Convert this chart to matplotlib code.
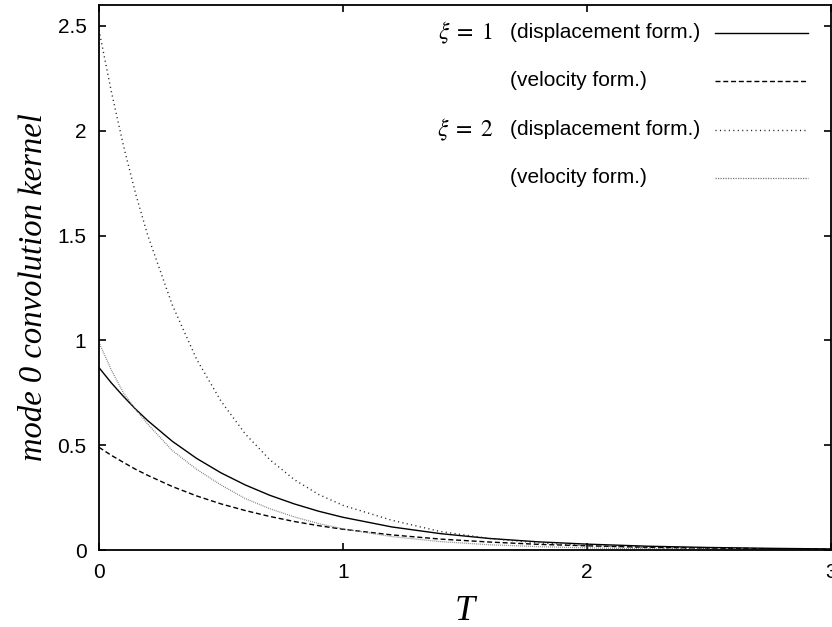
import matplotlib
matplotlib.use("Agg")
import matplotlib.pyplot as plt
from matplotlib.lines import Line2D

# valori
T = [0, 0.05, 0.1, 0.15, 0.2, 0.3, 0.4, 0.5, 0.6, 0.7, 0.8, 0.9, 1.0,
     1.2, 1.4, 1.6, 1.8, 2.0, 2.25, 2.5, 2.75, 3.0]

xi1_disp = [0.87, 0.798, 0.733, 0.672, 0.617, 0.519, 0.437, 0.368, 0.310, 0.261,
            0.220, 0.185, 0.156, 0.110, 0.078, 0.055, 0.039, 0.028, 0.018, 0.012,
            0.008, 0.005]
xi1_vel = [0.49, 0.452, 0.418, 0.385, 0.356, 0.303, 0.258, 0.220, 0.188, 0.160,
           0.136, 0.116, 0.099, 0.072, 0.052, 0.038, 0.027, 0.020, 0.013, 0.009,
           0.006, 0.004]
xi2_disp = [2.48, 2.19, 1.93, 1.70, 1.50, 1.17, 0.91, 0.71, 0.553, 0.431,
            0.336, 0.265, 0.213, 0.142, 0.088, 0.055, 0.034, 0.021, 0.011, 0.006,
            0.003, 0.0015]
xi2_vel = [0.99, 0.86, 0.75, 0.67, 0.60, 0.475, 0.385, 0.31, 0.245, 0.197,
           0.158, 0.126, 0.101, 0.064, 0.040, 0.025, 0.016, 0.010, 0.0057, 0.0032,
           0.0018, 0.001]

labels = ["(displacement form.)", "(velocity form.)",
          "(displacement form.)", "(velocity form.)"]
xi_labels = [r"$\xi\;=\;1$", "", r"$\xi\;=\;2$", ""]

plt.rcParams['font.family'] = ['Liberation Sans', 'DejaVu Sans']
plt.rcParams['mathtext.fontset'] = 'stix'

fig = plt.figure(figsize=(8.32, 6.27), dpi=100)
ax = fig.add_axes([99 / 832, 77 / 627, 732 / 832, 545 / 627])

stili = [
    dict(color='black', lw=1.0, linestyle='-'),
    dict(color='black', lw=1.0, linestyle=(0, (3.6, 2.0))),
    dict(color='#222222', lw=1.0, linestyle=(0, (0.8, 2.4))),
    dict(color='#777777', lw=0.9, linestyle=(0, (0.7, 0.9))),
]
serie = [xi1_disp, xi1_vel, xi2_disp, xi2_vel]
for y, st in zip(serie, stili):
    ax.plot(T, y, **st)

ax.set_xlim(0, 3)
ax.set_ylim(0, 2.6)
ax.set_xticks([0, 1, 2, 3])
ax.set_xticklabels(['0', '1', '2', '3'])
ax.set_yticks([0, 0.5, 1, 1.5, 2, 2.5])
ax.set_yticklabels(['0', '0.5', '1', '1.5', '2', '2.5'])
ax.tick_params(direction='in', length=5, width=1.2, labelsize=15,
               top=True, right=True, pad=9)
for s in ax.spines.values():
    s.set_linewidth(1.3)

ax.set_xlabel('T', fontsize=26, fontstyle='italic', family='Liberation Serif',
              labelpad=10)
ax.set_ylabel('mode 0 convolution kernel', fontsize=23.5, fontstyle='italic',
              family='Liberation Serif')
ax.yaxis.set_label_coords(-0.068, 0.483)

# legenda stile gnuplot: testo allineato a sinistra, campione a destra
righe_y = [0.949, 0.861, 0.771, 0.683]
for i in range(4):
    yy = righe_y[i]
    if xi_labels[i]:
        ax.text(0.538, yy, xi_labels[i], transform=ax.transAxes, ha='right',
                va='center', fontsize=17)
    ax.text(0.561, yy, labels[i], transform=ax.transAxes, ha='left',
            va='center', fontsize=15)
    st = dict(stili[i])
    if i == 3:
        st['linestyle'] = (0, (1.0, 1.0))
    ax.add_line(Line2D([0.841, 0.968], [yy, yy], transform=ax.transAxes, **st))

fig.savefig('out.png', dpi=100)
